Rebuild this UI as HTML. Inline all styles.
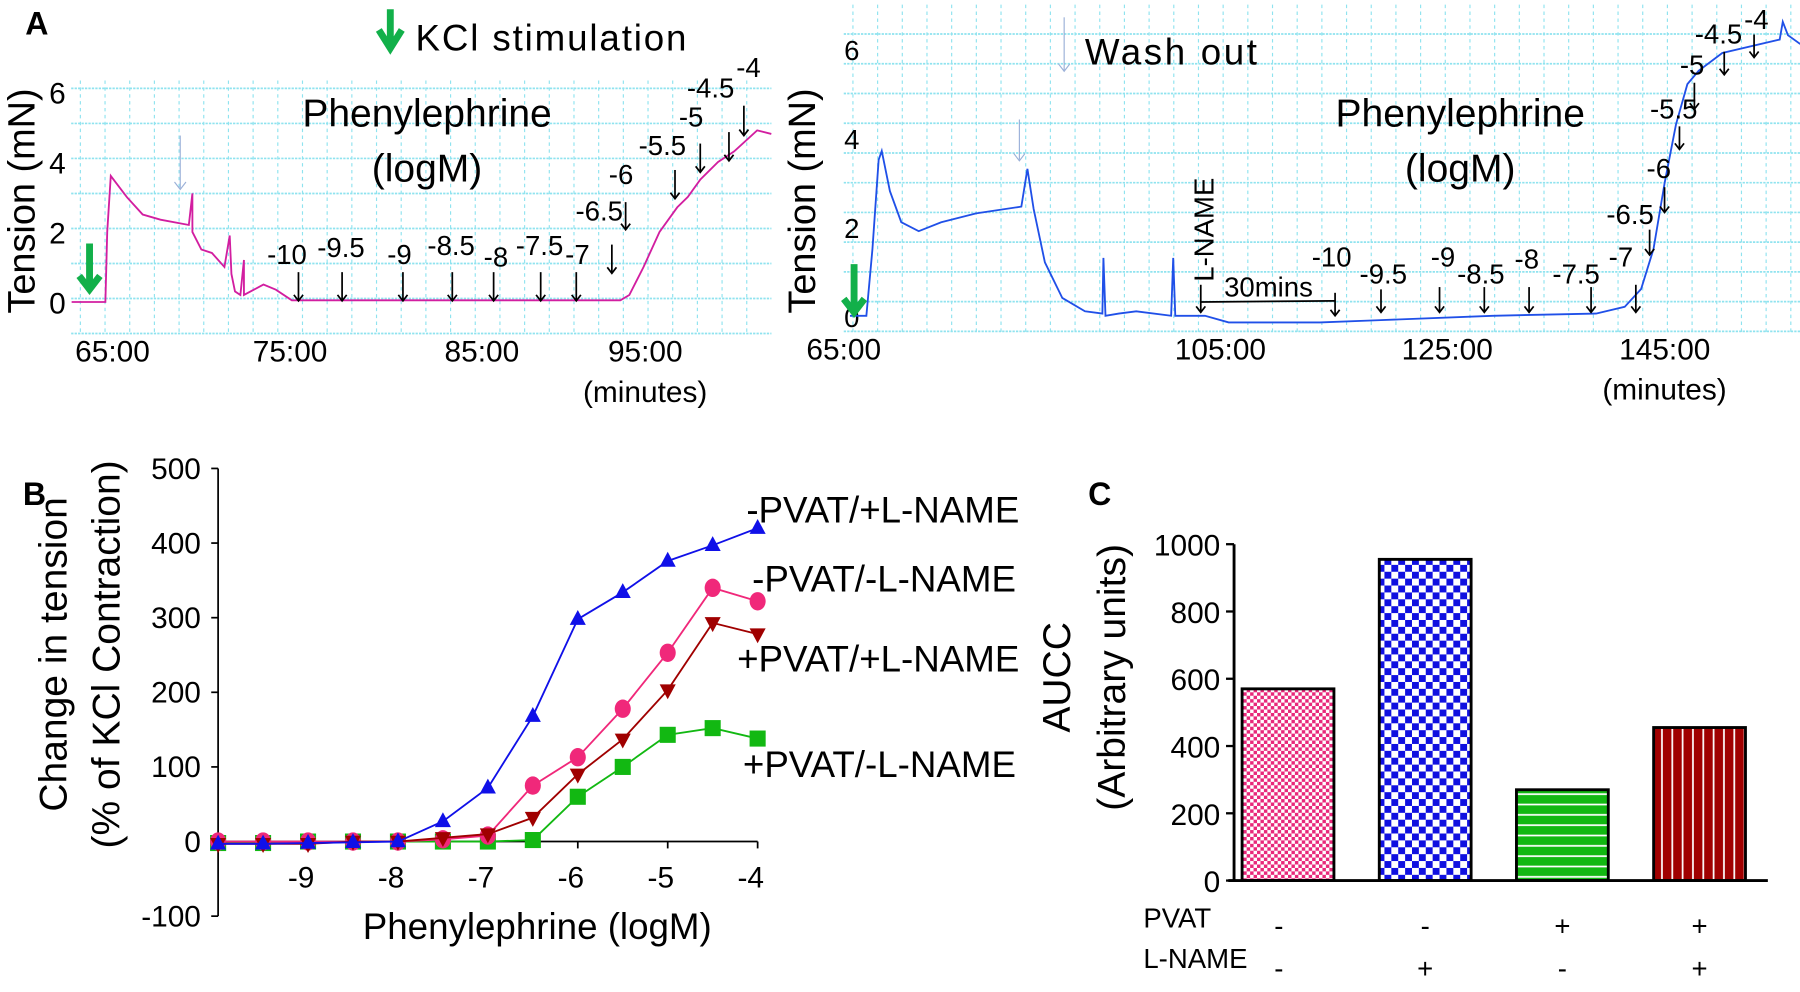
<!DOCTYPE html>
<html><head><meta charset="utf-8"><style>
html,body{margin:0;padding:0;background:#fff;}
svg{display:block;font-family:"Liberation Sans",sans-serif;}
</style></head><body>
<svg id="fig" width="1800" height="992" viewBox="0 0 1568 864" xmlns="http://www.w3.org/2000/svg">
<defs>
<pattern id="pPink" width="6" height="6" patternUnits="userSpaceOnUse"><rect width="6" height="6" fill="#fff"/><rect width="3" height="3" fill="#e8287a"/><rect x="3" y="3" width="3" height="3" fill="#e8287a"/></pattern>
<pattern id="pBlue" width="12" height="12" patternUnits="userSpaceOnUse"><rect width="12" height="12" fill="#fff"/><rect width="6" height="6" fill="#1010e0"/><rect x="6" y="6" width="6" height="6" fill="#1010e0"/></pattern>
<pattern id="pGreen" width="10" height="9" patternUnits="userSpaceOnUse"><rect width="10" height="9" fill="#12b812"/><rect y="7" width="10" height="1.5" fill="#fff"/></pattern>
<pattern id="pRed" width="9" height="10" patternUnits="userSpaceOnUse"><rect width="9" height="10" fill="#a00000"/><rect x="7" width="1.5" height="10" fill="#fff"/></pattern>
</defs>
<g id="panelA1"></g>
<g id="panelA2"></g>
<g id="panelB"></g>
<g id="panelC"></g>
</svg>
<script>
// ---------- Panel A data ----------
const leftTimes = [62.7,64.6,64.7,64.9,65.8,66.7,67.7,69.3,69.5,69.5,70.0,70.6,71.3,71.6,71.7,71.9,72.2,72.4,72.4,73.5,74.2,75.1,93.6,94.1,94.9,95.8,96.8,97.4,98.1,99.1,100.0,101.3,102.1];
const leftTension = [0,0,2,3.6,3.0,2.5,2.35,2.2,3.1,2.0,1.5,1.4,1.0,1.9,0.8,0.3,0.2,1.2,0.2,0.5,0.35,0.05,0.05,0.2,1.0,2.0,2.7,3.0,3.5,4.0,4.3,4.9,4.8];
const leftTickLabels = ["65:00","75:00","85:00","95:00"];
const leftTickTimes = [65,75,85.8,95];
const rightTimes = [65.6,67.2,67.8,68.4,68.7,69.5,70.6,72.3,74.5,77.9,82.3,82.9,83.5,84.6,86.3,88.5,90.2,90.3,90.5,91.8,93.5,96.9,97.1,97.3,100.2,102.5,111.4,117.0,128.2,138.3,141.1,142.7,143.9,145.0,146.1,147.2,148.3,150.6,156.2,156.5,157.0,158.2];
const rightTension = [0,0,1.5,3.5,3.7,2.8,2.1,1.9,2.1,2.3,2.45,3.3,2.4,1.2,0.4,0.1,0.05,1.3,0,0.05,0.1,0,1.3,0,0,-0.15,-0.15,-0.1,0,0.05,0.2,0.6,1.5,3.0,4.3,5.2,5.5,5.9,6.2,6.6,6.3,6.1];
const rightTickLabels = ["65:00","105:00","125:00","145:00"];
const rightTickTimes = [65,101.7,123.8,145];
const yTicksA = [0,2,4,6];

// ---------- Panel B data ----------
const logDoses = [-10,-9.5,-9,-8.5,-8,-7.5,-7,-6.5,-6,-5.5,-5,-4.5,-4];
const blueVals = [-3,-3,-2,-1,0,27,72,168,298,334,376,397,420];
const pinkVals = [0,0,0,0,0,3,8,75,113,178,253,340,322];
const redVals = [-3,-3,-3,0,0,5,10,32,90,137,203,293,278];
const greenVals = [-2,-2,0,0,0,0,0,2,60,100,143,152,138];
const bYTicks = [-100,0,100,200,300,400,500];
const bXTicks = [-9,-8,-7,-6,-5,-4];

// ---------- Panel C data ----------
const barGroups = ["-PVAT/-L-NAME","-PVAT/+L-NAME","+PVAT/-L-NAME","+PVAT/+L-NAME"];
const barValues = [570,955,270,455];
const pvatSigns = ["-","-","+","+"];
const lnameSigns = ["-","+","-","+"];
const cYTicks = [0,200,400,600,800,1000];

const NS="http://www.w3.org/2000/svg";
function mk(parent,tag,attrs,text){const e=document.createElementNS(NS,tag);for(const k in attrs)e.setAttribute(k,attrs[k]);if(text!==undefined)e.textContent=text;parent.appendChild(e);return e;}

function gridBox(g,x0,x1,y0,y1,dy0,stepY){
  for(let x=x0+8;x<x1;x+=21.5){const l=mk(g,'line',{x1:x,x2:x,y1:y0,y2:y1,stroke:'#8fe3ef','stroke-width':1,'stroke-dasharray':'3,3'});
  }
  for(let y=dy0;y>y0;y-=stepY){const l=mk(g,'line',{x1:x0,x2:x1,y1:y,y2:y,stroke:'#8fe3ef','stroke-width':1.5,'stroke-dasharray':'2,1'});
  }
}
function arrowDown(g,x,y1,y2,color,w,head){
  const l=mk(g,'line',{x1:x,x2:x,y1:y1,y2:y2-1,stroke:color,'stroke-width':w});
  
  const p=mk(g,'path',{d:`M${x-head},${y2-head*1.3} L${x},${y2} L${x+head},${y2-head*1.3}`,fill:'none',stroke:color,'stroke-width':w});
  
}
function txt(g,x,y,s,size,anchor,name,extra){const t=mk(g,'text',Object.assign({x:x,y:y,'font-size':size,'text-anchor':anchor||'middle',fill:'#000'},extra||{}),s);
  return t;}

// ===== Panel A left
(function(){
  const g=document.getElementById('panelA1');
  const tx=t=>98+(t-65)*15.47, ty=v=>263-v*30.5;
  gridBox(g,62,672,70,292,ty(-0.9),30.5);
  txt(g,22,30,'A',28,'start','panel-a-label',{'font-weight':'bold'});
  const gr=mk(g,'path',{d:'M340,8 L340,38 M330,26 L340,42 L350,26',stroke:'#12b04a','stroke-width':6,fill:'none'});
  
  txt(g,362,44,'KCl stimulation',32,'start','kcl-legend-text',{textLength:236});
  txt(g,0,0,'Tension (mN)',33,'middle','y-axis-title-left',{transform:'translate(30,175) rotate(-90)'});
  yTicksA.forEach(v=>txt(g,50,ty(v)+10,String(v),26,'middle','y-tick-left'));
  leftTickLabels.forEach((s,i)=>txt(g,tx(leftTickTimes[i]),315,s,26,'middle','x-tick-left'));
  txt(g,562,350,'(minutes)',26,'middle','x-axis-unit-left');
  let d='';leftTimes.forEach((t,i)=>{d+=(i?'L':'M')+tx(t).toFixed(1)+','+ty(leftTension[i]).toFixed(1)+' ';});
  const p=mk(g,'path',{d:d,fill:'none',stroke:'#d21ea0','stroke-width':1.6});
  
  txt(g,372,110,'Phenylephrine',34,'middle','drug-label-left');
  txt(g,372,158,'(logM)',34,'middle','drug-unit-left');
  arrowDown(g,78,212,252,'#12b04a',6,9);
  arrowDown(g,157,118,165,'#9ab0d8',1,5);
  const arr=[["-10",250,230,260,237,262],["-9.5",297,224,298,237,262],["-9",348,230,351,237,262],["-8.5",393,222,394,237,262],["-8",432,232,430,237,262],["-7.5",470,222,471,237,262],["-7",503,230,502,237,262],["-6.5",522,192,533,213,238],["-6",541,160,545,176,200],["-5.5",577,135,588,148,173],["-5",602,110,610,125,150],["-4.5",619,85,635,115,140],["-4",652,67,648,92,118]];
  arr.forEach(a=>{txt(g,a[1],a[2],a[0],24,'middle','dose-label-left');arrowDown(g,a[3],a[4],a[5],'#000',1.5,4);});
})();

// ===== Panel A right
(function(){
  const g=document.getElementById('panelA2');
  const tx=t=>735+(t-65)*8.94, ty=v=>275-v*38.8;
  gridBox(g,735,1568,4,292,ty(-0.35),25.9);
  txt(g,0,0,'Tension (mN)',33,'middle','y-axis-title-right',{transform:'translate(710,175) rotate(-90)'});
  yTicksA.forEach(v=>txt(g,742,ty(v)+10,String(v),24,'middle','y-tick-right'));
  rightTickLabels.forEach((s,i)=>txt(g,tx(rightTickTimes[i]),313,s,26,'middle','x-tick-right'));
  txt(g,1450,348,'(minutes)',26,'middle','x-axis-unit-right');
  let d='';rightTimes.forEach((t,i)=>{d+=(i?'L':'M')+tx(t).toFixed(1)+','+ty(rightTension[i]).toFixed(1)+' ';});
  const p=mk(g,'path',{d:d,fill:'none',stroke:'#2050e8','stroke-width':1.6});
  
  txt(g,1272,110,'Phenylephrine',34,'middle','drug-label-right');
  txt(g,1272,158,'(logM)',34,'middle','drug-unit-right');
  txt(g,945,56,'Wash out',32,'start','washout-legend-text',{textLength:150});
  arrowDown(g,927,15,62,'#9ab0d8',1,5);
  arrowDown(g,888,104,140,'#9ab0d8',1,5);
  arrowDown(g,744,230,272,'#12b04a',6,9);
  txt(g,0,0,'L-NAME',24,'middle','lname-label',{transform:'translate(1057,200) rotate(-90)'});
  txt(g,1105,258,'30mins',24,'middle','thirty-min-label');
  const l=mk(g,'line',{x1:1046,y1:263,x2:1163,y2:262,stroke:'#000','stroke-width':1.5});
  
  arrowDown(g,1046,248,272,'#000',1.5,4);
  const arr=[["-10",1160,232,1163,255,275],["-9.5",1205,247,1203,252,272],["-9",1257,232,1254,250,272],["-8.5",1290,247,1293,250,272],["-8",1330,234,1332,250,272],["-7.5",1373,247,1386,250,272],["-7",1412,232,1425,248,272],["-6.5",1420,195,1437,200,222],["-6",1445,155,1450,163,185],["-5.5",1458,103,1463,110,130],["-5",1474,65,1476,72,95],["-4.5",1497,38,1502,45,65],["-4",1530,25,1528,30,50]];
  arr.forEach(a=>{txt(g,a[1],a[2],a[0],24,'middle','dose-label-right');arrowDown(g,a[3],a[4],a[5],'#000',1.5,4);});
})();

// ===== Panel B
(function(){
  const g=document.getElementById('panelB');
  const sx=v=>190+(v+10)*78.33, sy=v=>733-v*0.65;
  txt(g,30,440,'B',28,'middle','panel-b-label',{'font-weight':'bold'});
  txt(g,0,0,'Change in tension',34,'middle','y-axis-title-b',{transform:'translate(58,570) rotate(-90)'});
  txt(g,0,0,'(% of KCl Contraction)',34,'middle','y-axis-subtitle-b',{transform:'translate(104,570) rotate(-90)'});
  const ax=mk(g,'line',{x1:190,y1:sy(500),x2:190,y2:sy(-100),stroke:'#000','stroke-width':1.5});
  
  const xa=mk(g,'line',{x1:190,y1:sy(0),x2:sx(-4),y2:sy(0),stroke:'#000','stroke-width':1.5});
  
  bYTicks.forEach(v=>{const t=mk(g,'line',{x1:184,x2:190,y1:sy(v),y2:sy(v),stroke:'#000','stroke-width':1.5});
    
    txt(g,175,sy(v)+9,String(v),26,'end','y-tick-label-b');});
  bXTicks.forEach(v=>{const t=mk(g,'line',{x1:sx(v),x2:sx(v),y1:sy(0),y2:sy(0)+6,stroke:'#000','stroke-width':1.5});
    
    txt(g,sx(v)-6,sy(0)+40,String(v),26,'middle','x-tick-label-b');});
  txt(g,468,818,'Phenylephrine (logM)',32,'middle','x-axis-title-b');
  function series(vals,color,marker,name){
    const pts=logDoses.map((d,i)=>[sx(d),sy(vals[i])]);
    const pl=mk(g,'polyline',{points:pts.map(p=>p.join(',')).join(' '),fill:'none',stroke:color,'stroke-width':1.6});
    
    pts.forEach(([x,y])=>{let m;
      if(marker==='up')m=mk(g,'path',{d:`M${x},${y-8} L${x+7},${y+5} L${x-7},${y+5}Z`,fill:color});
      else if(marker==='down')m=mk(g,'path',{d:`M${x},${y+8} L${x+7},${y-5} L${x-7},${y-5}Z`,fill:color});
      else if(marker==='circle')m=mk(g,'ellipse',{cx:x,cy:y,rx:7,ry:8,fill:color});
      else m=mk(g,'rect',{x:x-7,y:y-7,width:14,height:14,fill:color});
      });
  }
  series(greenVals,'#12b812','square','plus-pvat-minus-lname');
  series(pinkVals,'#f0287a','circle','minus-pvat-minus-lname');
  series(redVals,'#a00000','down','plus-pvat-plus-lname');
  series(blueVals,'#1010e8','up','minus-pvat-plus-lname');
  txt(g,888,455,'-PVAT/+L-NAME',32,'end','legend-entry-minus-pvat-plus-lname');
  txt(g,885,515,'-PVAT/-L-NAME',32,'end','legend-entry-minus-pvat-minus-lname');
  txt(g,888,585,'+PVAT/+L-NAME',32,'end','legend-entry-plus-pvat-plus-lname');
  txt(g,885,677,'+PVAT/-L-NAME',32,'end','legend-entry-plus-pvat-minus-lname');
})();

// ===== Panel C
(function(){
  const g=document.getElementById('panelC');
  const sy=v=>767-v*0.293;
  const bx=i=>1082+i*119.5, bw=80;
  const fills=['url(#pPink)','url(#pBlue)','url(#pGreen)','url(#pRed)'];
  txt(g,958,440,'C',28,'middle','panel-c-label',{'font-weight':'bold'});
  txt(g,0,0,'AUCC',34,'middle','y-axis-title-c',{transform:'translate(932,590) rotate(-90)'});
  txt(g,0,0,'(Arbitrary units)',34,'middle','y-axis-subtitle-c',{transform:'translate(980,590) rotate(-90)'});
  barValues.forEach((v,i)=>{const r=mk(g,'rect',{x:bx(i),y:sy(v),width:bw,height:767-sy(v),fill:fills[i],stroke:'#000','stroke-width':2.5});
    
    txt(g,bx(i)+bw/2-(i===0?8:0),815,pvatSigns[i],24,'middle','pvat-sign');
    txt(g,bx(i)+bw/2-(i===0?8:0),852,lnameSigns[i],24,'middle','lname-sign');});
  const ax=mk(g,'line',{x1:1075,y1:sy(1000),x2:1075,y2:767,stroke:'#000','stroke-width':2.5});
  
  const xa=mk(g,'line',{x1:1070,y1:767,x2:1540,y2:767,stroke:'#000','stroke-width':2.5});
  
  cYTicks.forEach(v=>{const t=mk(g,'line',{x1:1068,x2:1075,y1:sy(v),y2:sy(v),stroke:'#000','stroke-width':2});
    
    txt(g,1063,sy(v)+10,String(v),26,'end','y-tick-label-c');});
  txt(g,996,808,'PVAT',24,'start','pvat-row-label');
  txt(g,996,843,'L-NAME',24,'start','lname-row-label');
})();
</script>
</body></html>
